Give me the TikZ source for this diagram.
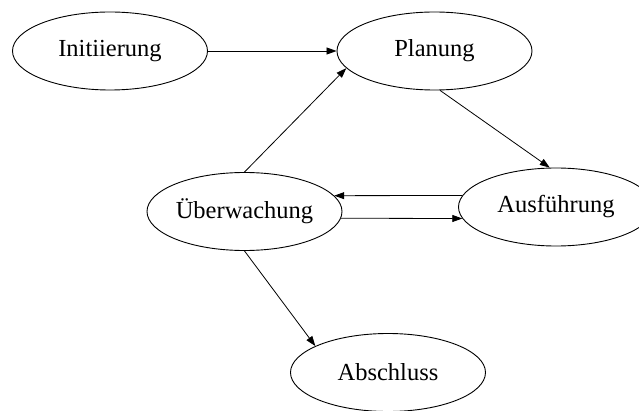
\documentclass[tikz,border=0pt]{standalone}
\usepackage{fontspec}
\setmainfont{Liberation Serif}
\usetikzlibrary{shapes.geometric,arrows.meta}
\begin{document}
\begin{tikzpicture}[x=1pt,y=1pt,
  phase/.style={draw, ellipse, line width=0.9pt, minimum width=195pt, minimum height=78pt,
    inner sep=0pt, font=\fontsize{24.5}{29}\selectfont},
  flow/.style={line width=0.8pt, -{Triangle[length=10pt,width=7pt]}}]
  \useasboundingbox (0,0) rectangle (639,410);
  \node[phase] (ini)   at (110,359)   {Initiierung};
  \node[phase] (plan)  at (434.5,359) {Planung};
  \node[phase] (uew)   at (244.5,198.5) {Überwachung};
  \node[phase] (aus)   at (556,203)   {Ausführung};
  \node[phase] (absch) at (388,37.5)  {Abschluss};

  \draw[flow] (ini.east) -- (plan.west);
  \draw[flow] (uew.north) -- (plan.191);
  \draw[flow] (plan.278) -- (aus.99);
  \draw[flow] (aus.173) -- (uew.10);
  \draw[flow] (uew.-4.5) -- (aus.187);
  \draw[flow] (uew.south) -- (absch.160);
\end{tikzpicture}
\end{document}
